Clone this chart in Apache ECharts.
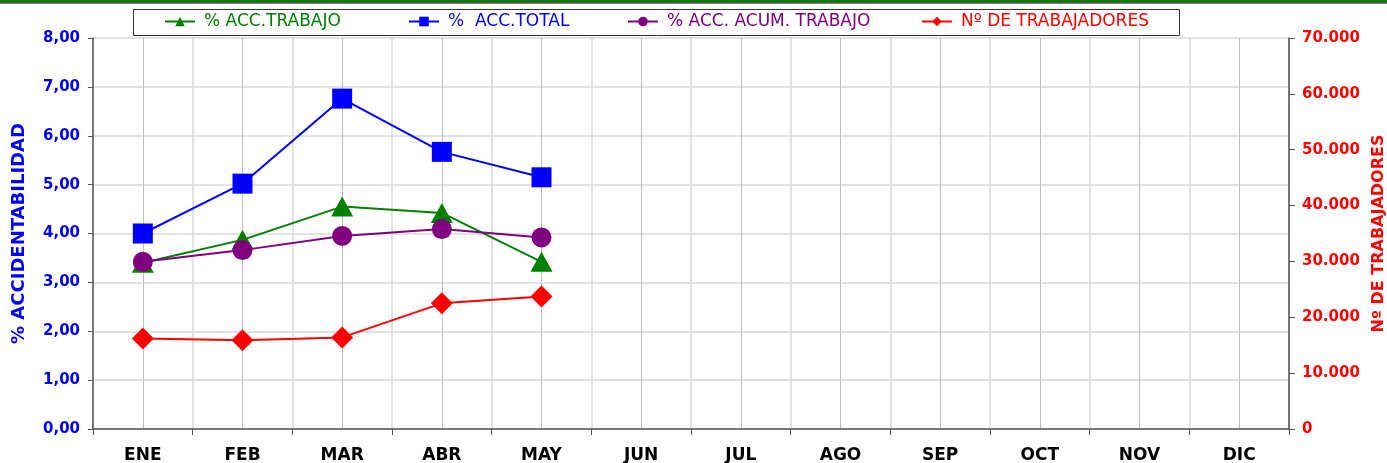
<!DOCTYPE html>
<html>
<head>
<meta charset="utf-8">
<script src="https://cdn.jsdelivr.net/npm/echarts@6/dist/echarts.min.js"></script>
<style>
  html, body { margin: 0; padding: 0; background: #fff; }
  #chart { width: 1387px; height: 463px; }
</style>
</head>
<body>
<div id="chart"></div>
<script>
// datos
const months = ["ENE", "FEB", "MAR", "ABR", "MAY", "JUN", "JUL", "AGO", "SEP", "OCT", "NOV", "DIC"];
const accTrabajo = [3.40, 3.87, 4.55, 4.42, 3.42, null, null, null, null, null, null, null];
const accTotal = [4.00, 5.02, 6.76, 5.67, 5.15, null, null, null, null, null, null, null];
const accAcumTrabajo = [3.42, 3.66, 3.95, 4.09, 3.92, null, null, null, null, null, null, null];
const numTrabajadores = [16200, 15900, 16400, 22500, 23700, null, null, null, null, null, null, null];
const halfCats = Array.from({ length: 24 }, (_, i) => "h" + i); // solo para las lineas verticales centrales

const chartDom = document.getElementById("chart");
const myChart = echarts.init(chartDom, null, { renderer: "canvas" });

const FONT = "DejaVu Sans, Verdana, sans-serif";
const axisLineColor = "#555";

// una leyenda por serie para fijar la posicion de cada item
const legendItem = (name, color, left) => ({
  left: left,
  top: 13,
  padding: 0,
  itemWidth: 30,
  itemHeight: 12,
  itemGap: 0,
  textStyle: { fontSize: 17, fontFamily: FONT, color: color, padding: [0, 0, 0, 4] },
  data: [name],
});

const option = {
  animation: false,
  textStyle: { fontFamily: FONT },
  grid: { left: 93, right: 98, top: 38, bottom: 34, containLabel: false, outerBoundsMode: "none" },
  legend: [
    legendItem("% ACC.TRABAJO", "#008000", 164),
    legendItem("%  ACC.TOTAL", "#0000ff", 408),
    legendItem("% ACC. ACUM. TRABAJO", "#800080", 627),
    legendItem("Nº DE TRABAJADORES", "#ff0000", 921),
  ],
  xAxis: [
    {
      type: "category",
      data: months,
      boundaryGap: true,
      axisLine: { lineStyle: { color: axisLineColor, width: 1.5 } },
      axisTick: { show: true, length: 6, lineStyle: { color: axisLineColor } },
      axisLabel: { color: "#000", fontWeight: "bold", fontSize: 17, margin: 18, interval: 0 },
      splitLine: { show: true, lineStyle: { color: "#d9d9d9", width: 1.5 } },
    },
    {
      // eje oculto para la linea vertical en el centro de cada mes
      type: "category",
      data: halfCats,
      boundaryGap: true,
      position: "bottom",
      axisLine: { show: false },
      axisTick: { show: false },
      axisLabel: { show: false },
      splitLine: {
        show: true,
        interval: (idx) => idx % 2 === 1,
        lineStyle: { color: "#bfbfbf", width: 1 },
      },
    },
  ],
  yAxis: [
    {
      type: "value",
      min: 0,
      max: 8,
      interval: 1,
      position: "left",
      name: "% ACCIDENTABILIDAD",
      nameLocation: "middle",
      nameRotate: 90,
      nameGap: 65,
      nameTextStyle: { color: "#0000ff", fontWeight: "bold", fontSize: 18 },
      axisLine: { show: true, lineStyle: { color: axisLineColor, width: 1.5 } },
      axisTick: { show: true, length: 5, lineStyle: { color: axisLineColor } },
      axisLabel: {
        color: "#0000ff",
        fontWeight: "bold",
        fontSize: 15,
        margin: 13,
        formatter: (v) => v.toFixed(2).replace(".", ","),
      },
      splitLine: { show: true, lineStyle: { color: "#d9d9d9", width: 1.5 } },
    },
    {
      type: "value",
      min: 0,
      max: 70000,
      interval: 10000,
      position: "right",
      name: "Nº DE TRABAJADORES",
      nameLocation: "middle",
      nameRotate: 90,
      nameGap: 82,
      nameTextStyle: { color: "#ff0000", fontWeight: "bold", fontSize: 16 },
      axisLine: { show: true, lineStyle: { color: axisLineColor, width: 1.5 } },
      axisTick: { show: true, length: 6, lineStyle: { color: axisLineColor } },
      axisLabel: {
        color: "#ff0000",
        fontWeight: "bold",
        fontSize: 15,
        margin: 13,
        formatter: (v) => String(v).replace(/\B(?=(\d{3})+(?!\d))/g, "."),
      },
      splitLine: { show: false },
    },
  ],
  series: [
    {
      name: "% ACC.TRABAJO",
      type: "line",
      yAxisIndex: 0,
      data: accTrabajo,
      symbol: "triangle",
      symbolSize: [22, 20],
      lineStyle: { color: "#008000", width: 2 },
      itemStyle: { color: "#008000" },
      z: 3,
    },
    {
      name: "%  ACC.TOTAL",
      type: "line",
      yAxisIndex: 0,
      data: accTotal,
      symbol: "rect",
      symbolSize: 20,
      lineStyle: { color: "#0000ff", width: 2 },
      itemStyle: { color: "#0000ff" },
      z: 3,
    },
    {
      name: "% ACC. ACUM. TRABAJO",
      type: "line",
      yAxisIndex: 0,
      data: accAcumTrabajo,
      symbol: "circle",
      symbolSize: 20,
      lineStyle: { color: "#800080", width: 2 },
      itemStyle: { color: "#800080" },
      z: 4,
    },
    {
      name: "Nº DE TRABAJADORES",
      type: "line",
      yAxisIndex: 1,
      data: numTrabajadores,
      symbol: "diamond",
      symbolSize: [22, 22],
      lineStyle: { color: "#ff0000", width: 2 },
      itemStyle: { color: "#ff0000" },
      z: 3,
    },
  ],
  graphic: [
    // franja verde superior
    { type: "rect", left: 0, top: 0, shape: { width: 1387, height: 2.5 }, style: { fill: "#0a7d0a" } },
    { type: "rect", left: 0, top: 2.5, shape: { width: 1387, height: 1 }, style: { fill: "#000" } },
    // marco de la leyenda
    {
      type: "rect",
      left: 133,
      top: 9,
      z: -1,
      shape: { width: 1046, height: 26 },
      style: { fill: "#fff", stroke: "#333", lineWidth: 1 },
    },
  ],
};

myChart.setOption(option);
</script>
</body>
</html>
